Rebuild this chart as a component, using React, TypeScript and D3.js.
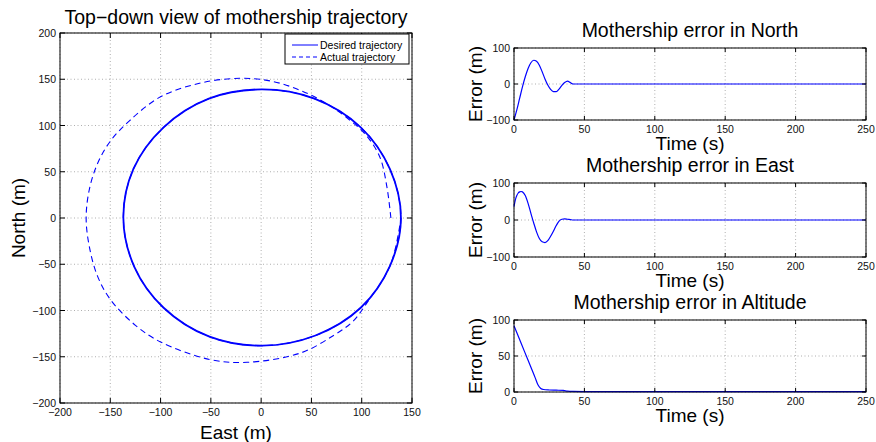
import React from 'react';
import * as d3 from 'd3';

const FONT = '"Liberation Sans", Arial, Helvetica, sans-serif';
const BLUE = '#0000ff';

// top-down view, East / North in metres
const desiredEast = [139, 128, 99, 53, 1, -52, -97, -127, -137, -126, -97, -52, 1, 54, 99, 128];
const desiredNorth = [0, 53, 98, 129, 139, 129, 98, 53, 0, -53, -97, -128, -138, -127, -97, -52];

const actualEast = [129, 125, 118, 104, 88, 66, 39, 10, -21, -60, -100, -131, -150, -163, -171, -174, -171, -163, -150, -125, -100, -51, -14, 39, 72, 91, 105, 128, 139, 128, 99, 53, 1, -52, -97, -127, -137, -126, -97, -52, 1, 54, 99, 128, 139];
const actualNorth = [0, 34, 66, 90, 106, 123, 138, 148, 151, 146, 131, 105, 83, 58, 30, 0, -30, -62, -88, -116, -134, -153, -156, -146, -127, -112, -92, -52, 0, 53, 98, 129, 139, 129, 98, 53, 0, -53, -97, -128, -138, -127, -97, -52, 0];

const eastTicks = [-200, -150, -100, -50, 0, 50, 100, 150];
const northTicks = [-200, -150, -100, -50, 0, 50, 100, 150, 200];

// error time histories
const northTime = [0, 2, 4, 6, 8, 10, 12, 14, 16, 18, 20, 22, 24, 26, 28, 30, 32, 34, 36, 38, 40, 42, 44, 50, 100, 150, 200, 250];
const northErr = [-100, -72, -40, -8, 20, 43, 59, 66, 63, 52, 34, 14, -3, -15, -21, -21, -14, -4, 4, 8, 4, 0, 0, 0, 0, 0, 0, 0];

const eastTime = [0, 1, 2, 3, 4, 5, 6, 8, 10, 12, 14, 16, 18, 20, 22, 24, 26, 28, 30, 32, 34, 36, 38, 40, 42, 50, 100, 150, 200, 250];
const eastErr = [36, 55, 66, 73, 76, 77, 76, 66, 45, 18, -8, -32, -50, -59, -61, -56, -44, -30, -15, -3, 2, 3, 2, 1, 0, 0, 0, 0, 0, 0];

const altTime = [0, 5, 10, 15, 17, 19, 21, 25, 30, 35, 38, 42, 50, 100, 150, 200, 250];
const altErr = [92, 68, 44, 20, 10, 5, 3.5, 2.8, 2.5, 2.2, 1.2, 0.8, 0.6, 0.5, 0.5, 0.5, 0.5];

const timeTicks = [0, 50, 100, 150, 200, 250];
const errTicks = [-100, 0, 100];
const altTicks = [0, 50, 100];

const fmt = (v: number) => String(v).replace('-', '\u2212');

const Grid = ({ x, y, xTicks, yTicks }: any) => {
  const [x0, x1] = x.range();
  const [y1, y0] = y.range();
  return (
    <g>
      {xTicks.map((t: number) => (
        <line key={'gx' + t} x1={x(t)} x2={x(t)} y1={y0} y2={y1} stroke="#9a9a9a" strokeWidth={0.8} strokeDasharray="1,2.5" />
      ))}
      {yTicks.map((t: number) => (
        <line key={'gy' + t} x1={x0} x2={x1} y1={y(t)} y2={y(t)} stroke="#9a9a9a" strokeWidth={0.8} strokeDasharray="1,2.5" />
      ))}
    </g>
  );
};

const Frame = ({ x, y, xTicks, yTicks, tickLen }: any) => {
  const [x0, x1] = x.range();
  const [y1, y0] = y.range();
  return (
    <g>
      <rect x={x0} y={y0} width={x1 - x0} height={y1 - y0} fill="none" stroke="#000" strokeWidth={1} />
      {xTicks.map((t: number) => (
        <g key={'tx' + t}>
          <line x1={x(t)} x2={x(t)} y1={y1} y2={y1 - tickLen} stroke="#000" />
          <line x1={x(t)} x2={x(t)} y1={y0} y2={y0 + tickLen} stroke="#000" />
          <text x={x(t)} y={y1 + 13} textAnchor="middle" fontSize={10.5} fill="#111">{fmt(t)}</text>
        </g>
      ))}
      {yTicks.map((t: number) => (
        <g key={'ty' + t}>
          <line x1={x0} x2={x0 + tickLen} y1={y(t)} y2={y(t)} stroke="#000" />
          <line x1={x1} x2={x1 - tickLen} y1={y(t)} y2={y(t)} stroke="#000" />
          <text x={x0 - 4} y={y(t) + 4} textAnchor="end" fontSize={10.5} fill="#111">{fmt(t)}</text>
        </g>
      ))}
    </g>
  );
};

const TrajectoryPlot = () => {
  const x = d3.scaleLinear().domain([-200, 150]).range([60, 412]);
  const y = d3.scaleLinear().domain([-200, 200]).range([403, 33]);
  const desired = desiredEast.map((e, i) => [e, desiredNorth[i]] as [number, number]);
  const actual = actualEast.map((e, i) => [e, actualNorth[i]] as [number, number]);
  const closed = d3.line<[number, number]>().x(d => x(d[0])).y(d => y(d[1])).curve(d3.curveCatmullRomClosed);
  const open = d3.line<[number, number]>().x(d => x(d[0])).y(d => y(d[1])).curve(d3.curveCatmullRom);
  return (
    <g>
      <Grid x={x} y={y} xTicks={eastTicks} yTicks={northTicks} />
      <path d={closed(desired) || ''} fill="none" stroke={BLUE} strokeWidth={1.8} />
      <path d={open(actual) || ''} fill="none" stroke={BLUE} strokeWidth={1.1} strokeDasharray="6,4" />
      <Frame x={x} y={y} xTicks={eastTicks} yTicks={northTicks} tickLen={5} />
      <text x={236} y={24} textAnchor="middle" fontSize={19.5}>Top{'\u2212'}down view of mothership trajectory</text>
      <text x={236} y={439} textAnchor="middle" fontSize={19}>East (m)</text>
      <text transform="translate(25,218) rotate(-90)" textAnchor="middle" fontSize={19}>North (m)</text>
      {/* legend */}
      <rect x={285} y={34} width={124} height={30} fill="#fff" stroke="#000" strokeWidth={1} />
      <line x1={292} x2={318} y1={45} y2={45} stroke={BLUE} strokeWidth={1} />
      <line x1={292} x2={318} y1={57} y2={57} stroke={BLUE} strokeWidth={1} strokeDasharray="4,3" />
      <text x={320} y={49} fontSize={10.5}>Desired trajectory</text>
      <text x={320} y={61} fontSize={10.5}>Actual trajectory</text>
    </g>
  );
};

const ErrorPlot = ({ top, bottom, time, err, domain, yTicks, title }: any) => {
  const x = d3.scaleLinear().domain([0, 250]).range([514, 866]);
  const y = d3.scaleLinear().domain(domain).range([bottom, top]);
  const line = d3.line<number>().x((_, i) => x(time[i])).y(d => y(d)).curve(d3.curveMonotoneX);
  return (
    <g>
      <Grid x={x} y={y} xTicks={timeTicks} yTicks={yTicks} />
      <path d={line(err) || ''} fill="none" stroke={BLUE} strokeWidth={1.2} />
      <Frame x={x} y={y} xTicks={timeTicks} yTicks={yTicks} tickLen={4} />
      <text x={690} y={top - 11} textAnchor="middle" fontSize={19.5}>{title}</text>
      <text x={690} y={bottom + 30} textAnchor="middle" fontSize={19}>Time (s)</text>
      <text transform={`translate(482,${(top + bottom) / 2}) rotate(-90)`} textAnchor="middle" fontSize={19}>Error (m)</text>
    </g>
  );
};

export default function App() {
  return (
    <svg width={876} height={442} style={{ position: 'absolute', left: 0, top: 0, background: '#fff' }} fontFamily={FONT}>
      <rect width={876} height={442} fill="#fff" />
      <TrajectoryPlot />
      <ErrorPlot top={48} bottom={120} time={northTime} err={northErr} domain={[-100, 100]} yTicks={errTicks} title="Mothership error in North" />
      <ErrorPlot top={183} bottom={257} time={eastTime} err={eastErr} domain={[-100, 100]} yTicks={errTicks} title="Mothership error in East" />
      <ErrorPlot top={320} bottom={392} time={altTime} err={altErr} domain={[0, 100]} yTicks={altTicks} title="Mothership error in Altitude" />
    </svg>
  );
}
